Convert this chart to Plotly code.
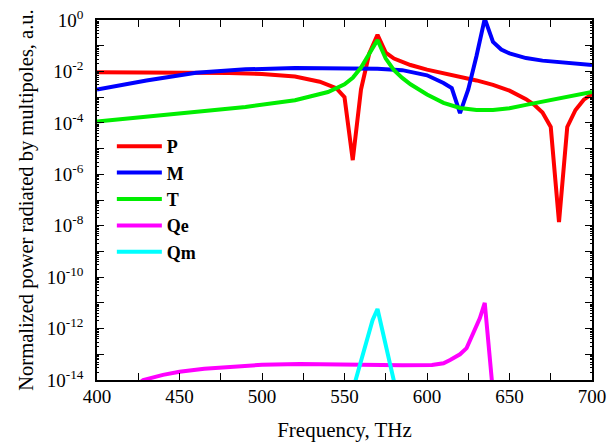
import plotly.graph_objects as go

# Frequencies (THz) and log10 of normalized radiated power
p_freq = [400, 450, 480, 500, 520, 535, 545, 550, 555, 560, 565, 570, 575, 580, 590, 600,
          610, 620, 630, 640, 650, 660, 665, 670, 675, 680, 685, 690, 695, 700]
p_log = [-2.03, -2.03, -2.06, -2.1, -2.2, -2.4, -2.65, -3.0, -5.45, -2.7, -1.3, -0.58, -1.27,
         -1.5, -1.75, -1.93, -2.07, -2.2, -2.35, -2.52, -2.75, -3.08, -3.3, -3.6, -4.16, -7.86,
         -4.16, -3.5, -3.1, -2.88]

m_freq = [400, 430, 460, 490, 520, 550, 570, 585, 600, 610, 615, 620, 625, 630, 635, 640,
          645, 650, 660, 670, 685, 700]
m_log = [-2.7, -2.35, -2.05, -1.92, -1.87, -1.88, -1.9, -1.95, -2.15, -2.45, -2.65, -3.62,
         -2.7, -1.4, 0.05, -0.85, -1.15, -1.3, -1.48, -1.58, -1.68, -1.75]

t_freq = [400, 430, 460, 490, 520, 540, 550, 555, 560, 565, 570, 575, 580, 585, 590, 600,
          610, 620, 630, 640, 650, 660, 670, 680, 690, 700]
t_log = [-3.95, -3.75, -3.58, -3.38, -3.12, -2.8, -2.5, -2.25, -1.85, -1.35, -0.78, -1.5,
         -1.95, -2.25, -2.5, -2.9, -3.22, -3.42, -3.5, -3.5, -3.43, -3.3, -3.17, -3.03, -2.92, -2.8]

qe_freq = [420, 428, 440, 450, 465, 482, 500, 523, 545, 565, 585, 603, 610, 614, 620, 624,
           628, 632, 635, 640]
qe_log = [-14.4, -14.0, -13.8, -13.68, -13.56, -13.48, -13.41, -13.38, -13.4, -13.43, -13.43,
          -13.42, -13.35, -13.22, -13.0, -12.76, -12.17, -11.6, -11.0, -14.5]

qm_freq = [555, 560, 563.5, 567, 570, 572.5, 575, 580]
qm_log = [-14.4, -13.2, -12.45, -11.67, -11.24, -11.93, -12.6, -14.05]

series = [
    ("P", p_freq, p_log, "#ff0000"),
    ("M", m_freq, m_log, "#0000ff"),
    ("T", t_freq, t_log, "#00ee00"),
    ("Qe", qe_freq, qe_log, "#ff00ff"),
    ("Qm", qm_freq, qm_log, "#00ffff"),
]

x_ticks = [400, 450, 500, 550, 600, 650, 700]
x_minor_ticks = [425, 475, 525, 575, 625, 675]
y_label_exponents = [-14, -12, -10, -8, -6, -4, -2, 0]
y_odd_exponents = [-13, -11, -9, -7, -5, -3, -1]

FONT = "Liberation Serif"

fig = go.Figure()
for name, fx, fl, col in series:
    fig.add_trace(go.Scatter(
        x=fx, y=[10 ** v for v in fl], mode="lines", name=f"<b>{name}</b>",
        line=dict(color=col, width=4),
    ))
# invisible trace so the odd-decade tick axis is drawn
fig.add_trace(go.Scatter(x=[400], y=[1e-7], yaxis="y2", mode="markers",
                         marker=dict(opacity=0), showlegend=False, hoverinfo="skip"))

y_tickvals = [10 ** e for e in y_label_exponents]
y_ticktext = [f"10<sup>{e}</sup>" for e in y_label_exponents]
y_minor = [k * 10 ** e for e in range(-14, 0) for k in range(2, 10)]

fig.update_layout(
    width=607, height=445,
    margin=dict(l=97, r=15, t=20, b=65, autoexpand=False),
    paper_bgcolor="white", plot_bgcolor="white",
    font=dict(family=FONT, size=18, color="black"),
    showlegend=True,
    legend=dict(x=0.03, y=0.70, xanchor="left", yanchor="top", itemwidth=45,
                bgcolor="rgba(0,0,0,0)", font=dict(family=FONT, size=18, color="black"),
                tracegroupgap=0),
    xaxis=dict(
        range=[400, 700], tickvals=x_ticks, ticks="inside", ticklen=7, tickwidth=1.2,
        tickcolor="black", automargin=False, ticklabelstandoff=-2,
        showline=True, linecolor="black", linewidth=1.5, mirror="allticks", showgrid=False,
        zeroline=False, tickfont=dict(family=FONT, size=19),
        minor=dict(tickvals=x_minor_ticks, ticks="inside", ticklen=4,
                   tickcolor="black", showgrid=False),
        title=dict(text="Frequency, THz", font=dict(family=FONT, size=21), standoff=17),
    ),
    yaxis=dict(
        type="log", range=[-14, 0], tickvals=y_tickvals, ticktext=y_ticktext,
        ticks="inside", ticklen=7, tickwidth=1.2, tickcolor="black", ticklabelstandoff=8,
        automargin=False,
        showline=True, linecolor="black", linewidth=1.5, mirror="allticks", showgrid=False,
        zeroline=False, tickfont=dict(family=FONT, size=19),
        minor=dict(tickvals=y_minor, ticks="inside", ticklen=2, tickcolor="black",
                   showgrid=False),
        title=dict(text="Normalized power radiated by multipoles, a.u.",
                   font=dict(family=FONT, size=20.5), standoff=8),
    ),
    yaxis2=dict(type="log", range=[-14, 0], overlaying="y", side="left", automargin=False,
                tickvals=[10 ** e for e in y_odd_exponents], showticklabels=False,
                ticks="inside", ticklen=7, tickwidth=1.2, tickcolor="black",
                showline=False, mirror="ticks", showgrid=False, zeroline=False),
)

fig.write_html(
    "out.html",
    config={"displayModeBar": False},
    post_script="document.body.style.margin='0';document.body.style.overflow='hidden';",
)
